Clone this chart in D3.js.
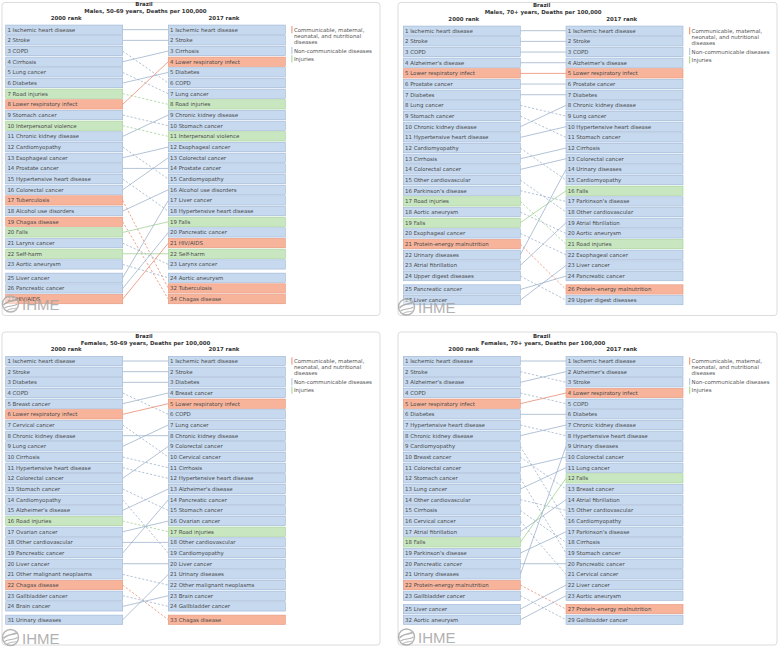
<!DOCTYPE html>
<html><head><meta charset="utf-8">
<script src="https://cdn.jsdelivr.net/npm/d3@7"></script>
<style>body{margin:0;background:#fff}svg{display:block}</style>
</head><body>
<svg id="chart" width="778" height="648"></svg>
<script>
// ---------------- DATA ----------------
const country = "Brazil";
const yearLabels = ["2000 rank", "2017 rank"];
const communicableCauses = ["Lower respiratory infect", "Tuberculosis", "Chagas disease", "HIV/AIDS", "Protein-energy malnutrition"];
const injuryCauses = ["Road injuries", "Interpersonal violence", "Falls", "Self-harm"];
const legendLabels = [["Communicable, maternal,", "neonatal, and nutritional", "diseases"], ["Non-communicable diseases"], ["Injuries"]];
const legendGroups = ["C", "N", "I"];
const subtitles = ["Males, 50-69 years, Deaths per 100,000", "Males, 70+ years, Deaths per 100,000",
                   "Females, 50-69 years, Deaths per 100,000", "Females, 70+ years, Deaths per 100,000"];

// Males 50-69
const m5069Ranks2000 = [1,2,3,4,5,6,7,8,9,10,11,12,13,14,15,16,17,18,19,20,21,22,23,25,26,27];
const m5069Causes2000 = ["Ischemic heart disease","Stroke","COPD","Cirrhosis","Lung cancer","Diabetes","Road injuries",
  "Lower respiratory infect","Stomach cancer","Interpersonal violence","Chronic kidney disease","Cardiomyopathy",
  "Esophageal cancer","Prostate cancer","Hypertensive heart disease","Colorectal cancer","Tuberculosis",
  "Alcohol use disorders","Chagas disease","Falls","Larynx cancer","Self-harm","Aortic aneurysm",
  "Liver cancer","Pancreatic cancer","HIV/AIDS"];
const m5069Ranks2017 = [1,2,3,4,5,6,7,8,9,10,11,12,13,14,15,16,17,18,19,20,21,22,23,24,32,34];
const m5069Causes2017 = ["Ischemic heart disease","Stroke","Cirrhosis","Lower respiratory infect","Diabetes","COPD",
  "Lung cancer","Road injuries","Chronic kidney disease","Stomach cancer","Interpersonal violence","Esophageal cancer",
  "Colorectal cancer","Prostate cancer","Cardiomyopathy","Alcohol use disorders","Liver cancer",
  "Hypertensive heart disease","Falls","Pancreatic cancer","HIV/AIDS","Self-harm","Larynx cancer",
  "Aortic aneurysm","Tuberculosis","Chagas disease"];

// Males 70+
const m70Ranks2000 = [1,2,3,4,5,6,7,8,9,10,11,12,13,14,15,16,17,18,19,20,21,22,23,24,25,27];
const m70Causes2000 = ["Ischemic heart disease","Stroke","COPD","Alzheimer's disease","Lower respiratory infect",
  "Prostate cancer","Diabetes","Lung cancer","Stomach cancer","Chronic kidney disease","Hypertensive heart disease",
  "Cardiomyopathy","Cirrhosis","Colorectal cancer","Other cardiovascular","Parkinson's disease","Road injuries",
  "Aortic aneurysm","Falls","Esophageal cancer","Protein-energy malnutrition","Urinary diseases",
  "Atrial fibrillation","Upper digest diseases","Pancreatic cancer","Liver cancer"];
const m70Ranks2017 = [1,2,3,4,5,6,7,8,9,10,11,12,13,14,15,16,17,18,19,20,21,22,23,24,26,29];
const m70Causes2017 = ["Ischemic heart disease","Stroke","COPD","Alzheimer's disease","Lower respiratory infect",
  "Prostate cancer","Diabetes","Chronic kidney disease","Lung cancer","Hypertensive heart disease","Stomach cancer",
  "Cirrhosis","Colorectal cancer","Urinary diseases","Cardiomyopathy","Falls","Parkinson's disease",
  "Other cardiovascular","Atrial fibrillation","Aortic aneurysm","Road injuries","Esophageal cancer",
  "Liver cancer","Pancreatic cancer","Protein-energy malnutrition","Upper digest diseases"];

// Females 50-69
const f5069Ranks2000 = [1,2,3,4,5,6,7,8,9,10,11,12,13,14,15,16,17,18,19,20,21,22,23,24,31];
const f5069Causes2000 = ["Ischemic heart disease","Stroke","Diabetes","COPD","Breast cancer","Lower respiratory infect",
  "Cervical cancer","Chronic kidney disease","Lung cancer","Cirrhosis","Hypertensive heart disease",
  "Colorectal cancer","Stomach cancer","Cardiomyopathy","Alzheimer's disease","Road injuries","Ovarian cancer",
  "Other cardiovascular","Pancreatic cancer","Liver cancer","Other malignant neoplasms","Chagas disease",
  "Gallbladder cancer","Brain cancer","Urinary diseases"];
const f5069Ranks2017 = [1,2,3,4,5,6,7,8,9,10,11,12,13,14,15,16,17,18,19,20,21,22,23,24,33];
const f5069Causes2017 = ["Ischemic heart disease","Stroke","Diabetes","Breast cancer","Lower respiratory infect","COPD",
  "Lung cancer","Chronic kidney disease","Colorectal cancer","Cervical cancer","Cirrhosis",
  "Hypertensive heart disease","Alzheimer's disease","Pancreatic cancer","Stomach cancer","Ovarian cancer",
  "Road injuries","Other cardiovascular","Cardiomyopathy","Liver cancer","Urinary diseases",
  "Other malignant neoplasms","Brain cancer","Gallbladder cancer","Chagas disease"];

// Females 70+
const f70Ranks2000 = [1,2,3,4,5,6,7,8,9,10,11,12,13,14,15,16,17,18,19,20,21,22,23,25,32];
const f70Causes2000 = ["Ischemic heart disease","Stroke","Alzheimer's disease","COPD","Lower respiratory infect",
  "Diabetes","Hypertensive heart disease","Chronic kidney disease","Cardiomyopathy","Breast cancer",
  "Colorectal cancer","Stomach cancer","Lung cancer","Other cardiovascular","Cirrhosis","Cervical cancer",
  "Atrial fibrillation","Falls","Parkinson's disease","Pancreatic cancer","Urinary diseases",
  "Protein-energy malnutrition","Gallbladder cancer","Liver cancer","Aortic aneurysm"];
const f70Ranks2017 = [1,2,3,4,5,6,7,8,9,10,11,12,13,14,15,16,17,18,19,20,21,22,23,27,29];
const f70Causes2017 = ["Ischemic heart disease","Alzheimer's disease","Stroke","Lower respiratory infect","COPD",
  "Diabetes","Chronic kidney disease","Hypertensive heart disease","Urinary diseases","Colorectal cancer",
  "Lung cancer","Falls","Breast cancer","Atrial fibrillation","Other cardiovascular","Cardiomyopathy",
  "Parkinson's disease","Cirrhosis","Stomach cancer","Pancreatic cancer","Cervical cancer","Liver cancer",
  "Aortic aneurysm","Protein-energy malnutrition","Gallbladder cancer"];

// ---------------- LAYOUT / STYLE ----------------
const layouts = [
  {fx: 2,   fy: 2.5, fw: 378, fh: 313, leftX: 5.7,   rightX: 168.3, row1: 29.7, logoY: 310},
  {fx: 398, fy: 2.5, fw: 379, fh: 313, leftX: 403.3, rightX: 566,   row1: 30.7, logoY: 313},
  {fx: 2,   fy: 332, fw: 378, fh: 313, leftX: 5.7,   rightX: 168.3, row1: 361,  logoY: 643.5},
  {fx: 398, fy: 332, fw: 379, fh: 313, leftX: 403.3, rightX: 566,   row1: 361,  logoY: 643}
];
const BOX_W = 117, BOX_H = 9.3, ROW_STEP = 10.67, GAP = 0.25;
const FONT = "'DejaVu Sans', Verdana, sans-serif";
const FS = 5.45;
const style = {
  C: {fill: "#f8b49b", stroke: "#e3957c", line: "#e7856a", legend: "#f3a083"},
  N: {fill: "#c6d9ef", stroke: "#9db5d4", line: "#9aafc9", legend: "#b6cde8"},
  I: {fill: "#c8e6c0", stroke: "#a2cf97", line: "#9ccd90", legend: "#b0dba5"}
};
const groupOf = c => communicableCauses.includes(c) ? "C" : injuryCauses.includes(c) ? "I" : "N";

const panelData = [
  [m5069Ranks2000, m5069Causes2000, m5069Ranks2017, m5069Causes2017],
  [m70Ranks2000, m70Causes2000, m70Ranks2017, m70Causes2017],
  [f5069Ranks2000, f5069Causes2000, f5069Ranks2017, f5069Causes2017],
  [f70Ranks2000, f70Causes2000, f70Ranks2017, f70Causes2017]
].map(([r0, c0, r1, c1], i) => ({
  subtitle: subtitles[i],
  left: r0.map((r, j) => ({rank: r, cause: c0[j]})),
  right: r1.map((r, j) => ({rank: r, cause: c1[j]}))
}));

const svg = d3.select("#chart");

function drawPanel(p, L) {
  const g = svg.append("g");
  g.append("rect").attr("x", L.fx).attr("y", L.fy).attr("width", L.fw).attr("height", L.fh)
    .attr("rx", 3).attr("fill", "#fff").attr("stroke", "#dcdcdc").attr("stroke-width", 1);

  const run = arr => { let k = 0; while (k < arr.length && arr[k].rank === k + 1) k++; return k; };
  const main = Math.min(run(p.left), run(p.right));
  const y = d3.scaleLinear().domain([0, 1]).range([L.row1, L.row1 + ROW_STEP]);
  const slotY = i => y(i + (i >= main ? GAP : 0));
  const x = d3.scaleOrdinal().domain(["2000", "2017"]).range([L.leftX, L.rightX]);

  const cx = (L.leftX + L.rightX + BOX_W) / 2;
  g.append("text").attr("x", cx - 1.5).attr("y", L.row1 - 23.5).attr("text-anchor", "middle")
    .attr("font-family", FONT).attr("font-size", FS).attr("font-weight", "bold").attr("fill", "#333").text(country);
  g.append("text").attr("x", cx).attr("y", L.row1 - 16.4).attr("text-anchor", "middle")
    .attr("font-family", FONT).attr("font-size", FS).attr("font-weight", "bold").attr("fill", "#333").text(p.subtitle);
  const headerShift = [2, -2.8];
  ["2000", "2017"].forEach((yr, k) => {
    g.append("text").attr("x", x(yr) + BOX_W / 2 + headerShift[k]).attr("y", L.row1 - 10).attr("text-anchor", "middle")
      .attr("font-family", FONT).attr("font-size", FS).attr("font-weight", "bold").attr("fill", "#333").text(yearLabels[k]);
  });

  // connecting lines
  const rightIdx = new Map(p.right.map((d, i) => [d.cause, i]));
  const links = p.left.map((d, i) => {
    const j = rightIdx.get(d.cause);
    return j === undefined ? null : {cause: d.cause, i, j, up: p.right[j].rank <= d.rank};
  }).filter(Boolean);
  g.selectAll("line.link").data(links).join("line")
    .attr("x1", x("2000") + BOX_W).attr("x2", x("2017"))
    .attr("y1", d => slotY(d.i)).attr("y2", d => slotY(d.j))
    .attr("stroke", d => style[groupOf(d.cause)].line).attr("stroke-width", 0.75)
    .attr("stroke-dasharray", d => d.up ? null : "2.2,1.8");

  // boxes
  [["2000", p.left], ["2017", p.right]].forEach(([yr, list]) => {
    const rows = g.selectAll(null).data(list).join("g")
      .attr("transform", (d, i) => `translate(${x(yr)},${slotY(i)})`);
    rows.append("rect").attr("x", 0).attr("y", -BOX_H / 2).attr("width", BOX_W).attr("height", BOX_H)
      .attr("fill", d => style[groupOf(d.cause)].fill).attr("stroke", d => style[groupOf(d.cause)].stroke)
      .attr("stroke-width", 0.6);
    rows.append("text").attr("x", 1.7).attr("y", 2).attr("font-family", FONT).attr("font-size", FS)
      .attr("fill", "#4a4a4a").text(d => `${d.rank} ${d.cause}`);
  });

  // legend
  const lx = L.rightX + BOX_W + 6;
  const offsets = [[0, 6.1, 12.2], [20.8], [29.1]];
  legendGroups.forEach((grp, k) => {
    const first = L.row1 + offsets[k][0];
    g.append("rect").attr("x", lx).attr("y", first - 3.6).attr("width", 1.2).attr("height", 7.2)
      .attr("fill", style[grp].legend);
    legendLabels[k].forEach((t, m) => {
      g.append("text").attr("x", lx + 2.6).attr("y", L.row1 + offsets[k][m] + 2)
        .attr("font-family", FONT).attr("font-size", FS).attr("fill", "#555").text(t);
    });
  });

  // IHME logo (overlaps the last row, as in the original)
  const lg = g.append("g").attr("opacity", 0.85);
  const ccx = L.fx + 8.5, ccy = L.logoY - 6;
  lg.append("circle").attr("cx", ccx).attr("cy", ccy).attr("r", 8).attr("fill", "rgba(255,255,255,0.55)")
    .attr("stroke", "#a9a9a9").attr("stroke-width", 1.4);
  lg.append("path").attr("d", `M${ccx - 7},${ccy + 1} C${ccx - 3},${ccy - 4} ${ccx + 2},${ccy - 2} ${ccx + 7},${ccy - 5}`)
    .attr("fill", "none").attr("stroke", "#a9a9a9").attr("stroke-width", 1.6);
  lg.append("path").attr("d", `M${ccx - 6},${ccy + 4} C${ccx - 2},${ccy + 1} ${ccx + 3},${ccy + 3} ${ccx + 7},${ccy}`)
    .attr("fill", "none").attr("stroke", "#a9a9a9").attr("stroke-width", 1.2);
  lg.append("path").attr("d", `M${ccx - 4},${ccy + 7} C${ccx},${ccy + 4} ${ccx + 4},${ccy + 5} ${ccx + 6},${ccy + 4}`)
    .attr("fill", "none").attr("stroke", "#a9a9a9").attr("stroke-width", 1);
  lg.append("text").attr("x", L.fx + 20).attr("y", L.logoY).attr("font-family", "'Liberation Sans', Arial, sans-serif")
    .attr("font-size", 15).attr("fill", "#a5a5a5").text("IHME");
}

panelData.forEach((p, i) => drawPanel(p, layouts[i]));
</script>
</body></html>
